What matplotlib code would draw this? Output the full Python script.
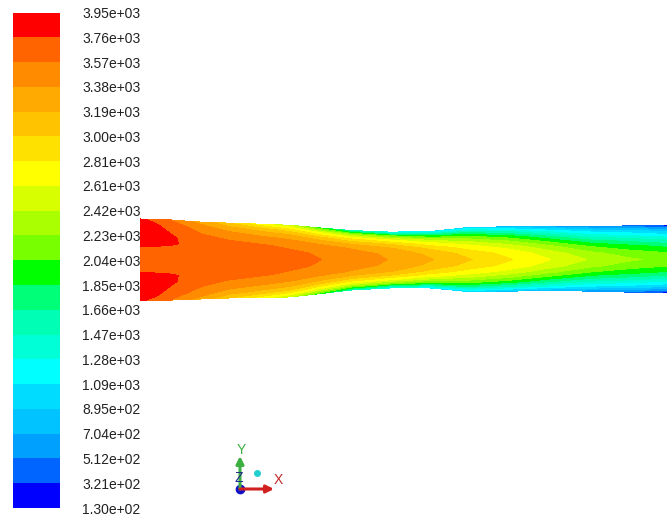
import numpy as np
import matplotlib
matplotlib.use("Agg")
import matplotlib.pyplot as plt
from matplotlib.colors import ListedColormap, BoundaryNorm
from matplotlib.ticker import FuncFormatter

plt.rcParams['font.family'] = ['Liberation Sans', 'DejaVu Sans']

# contour levels (K) and the band colours between them, low to high
levels = [130, 321, 512, 704, 895, 1090, 1280, 1470, 1660, 1850, 2040,
          2230, 2420, 2610, 2810, 3000, 3190, 3380, 3570, 3760, 3950]
band_colors = ['#0000ff', '#0064ff', '#00a0ff', '#00c3ff', '#00dcff',
               '#00ffff', '#00ffd7', '#00ffb4', '#00ff78', '#00ff00',
               '#78ff00', '#aaff00', '#d7ff00', '#ffff00', '#ffe100',
               '#ffc300', '#ffaa00', '#ff8c00', '#ff6400', '#ff0000']

# axial stations (mm) and the upper / lower edge of the flame zone (mm)
x_mm = [0, 3, 6, 8.5, 11.5, 17, 23, 28.5, 34, 40, 47.5, 55, 62.5, 70,
        78, 85.5, 93, 101]
y_top = [7.7, 7.5, 7.5, 7.3, 7.1, 6.9, 6.7, 6.5, 6.0, 5.5, 5.2, 5.3,
         6.1, 6.2, 6.2, 6.2, 6.4, 6.4]
y_bot = [-7.7, -7.7, -7.7, -7.5, -7.5, -7.3, -7.3, -7.1, -6.5, -5.8,
         -5.4, -5.4, -6.1, -6.0, -5.9, -6.0, -6.2, -6.2]

# fractional distance from the axis to the edge
eta = [0, 0.2, 0.4, 0.55, 0.7, 0.85, 1.0]

# temperature at each station (rows) and each eta (columns)
temp = [
    [3690, 3700, 3800, 3850, 3850, 3840, 3800],
    [3690, 3700, 3790, 3830, 3830, 3800, 3700],
    [3690, 3700, 3775, 3785, 3740, 3650, 3560],
    [3690, 3700, 3745, 3725, 3680, 3590, 3440],
    [3685, 3680, 3659, 3623, 3565, 3473, 3320],
    [3675, 3665, 3628, 3560, 3452, 3284, 3000],
    [3655, 3641, 3588, 3493, 3340, 3101, 2700],
    [3620, 3602, 3536, 3416, 3224, 2924, 2420],
    [3575, 3551, 3461, 3299, 3039, 2633, 1950],
    [3500, 3470, 3360, 3160, 2840, 2340, 1500],
    [3370, 3337, 3218, 3001, 2654, 2111, 1200],
    [3210, 3145, 2967, 2724, 2378, 1860, 1050],
    [3015, 2921, 2692, 2431, 2098, 1618, 930],
    [2830, 2740, 2518, 2267, 1946, 1483, 820],
    [2610, 2499, 2270, 2008, 1684, 1273, 700],
    [2400, 2273, 2036, 1763, 1435, 1071, 580],
    [2260, 2133, 1898, 1627, 1301, 939, 450],
    [2160, 2031, 1792, 1516, 1185, 817, 260],
]

# mirror the half profiles into a full structured grid
t = np.array(temp)
e = np.array(eta)
T = np.concatenate([t[:, ::-1], t[:, 1:]], axis=1).T
e_full = np.concatenate([-e[::-1], e[1:]])
xs = np.array(x_mm)
X = np.tile(xs, (len(e_full), 1))
Y = np.where(e_full[:, None] >= 0,
             e_full[:, None] * np.array(y_top)[None, :],
             -e_full[:, None] * np.array(y_bot)[None, :])

cmap = ListedColormap(band_colors)
norm = BoundaryNorm(levels, cmap.N)

W, H = 667, 520
fig = plt.figure(figsize=(W / 100, H / 100), dpi=100)
fig.patch.set_facecolor('white')

# flame axes: 5.27 px per mm, inlet at x=140 px, axis at y=259.5 px
scale = 5.27
ax = fig.add_axes([140 / W, 0, (W - 140) / W, 1])
ax.set_xlim(0, (W - 140) / scale)
ax.set_ylim(-(H - 259.5) / scale, 259.5 / scale)
ax.axis('off')
cf = ax.contourf(X, Y, T, levels=levels, cmap=cmap, norm=norm)

# colour bar on the left
cax = fig.add_axes([13 / W, 12 / H, 47 / W, 495.5 / H])
cb = fig.colorbar(cf, cax=cax, ticks=levels, spacing='uniform')
cb.outline.set_visible(False)
cb.ax.tick_params(length=0, pad=16, labelsize=10, labelcolor='#222222')
cb.ax.yaxis.set_major_formatter(FuncFormatter(lambda v, p: '%.2e' % v))

# coordinate triad
tri = fig.add_axes([0, 0, 1, 1], facecolor='none')
tri.set_xlim(0, W)
tri.set_ylim(H, 0)
tri.axis('off')
tri.annotate('', xy=(240, 456), xytext=(240, 489),
             arrowprops=dict(arrowstyle='-|>', color='#3cb043', lw=2.2,
                             mutation_scale=11, shrinkA=0, shrinkB=0))
tri.annotate('', xy=(274, 489), xytext=(240, 489),
             arrowprops=dict(arrowstyle='-|>', color='#d02020', lw=2.2,
                             mutation_scale=11, shrinkA=0, shrinkB=0))
tri.text(241, 450, 'Y', color='#3cb043', fontsize=10, ha='center', va='center')
tri.text(278, 480, 'X', color='#c02828', fontsize=10, ha='center', va='center')
tri.text(239, 478, 'Z', color='#1f2a8a', fontsize=10, ha='center', va='center')
tri.plot([240], [489], 'o', color='#1010c8', ms=6)
tri.plot([257], [473], 'o', color='#20d0d0', ms=4)

fig.savefig('out.png', dpi=100, facecolor='white')
